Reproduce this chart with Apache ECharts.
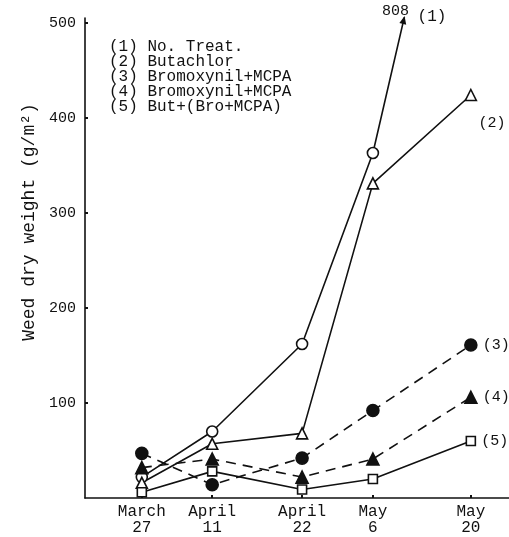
<!DOCTYPE html>
<html><head><meta charset="utf-8">
<script src="https://cdn.jsdelivr.net/npm/echarts@6/dist/echarts.min.js"></script>
<style>html,body{margin:0;padding:0;background:#fff}#c{width:509px;height:537px}</style>
</head><body><div id="c"></div>
<script>
// sampling dates and their positions along the (irregular) horizontal axis
const dateLabels = ['March\n27', 'April\n11', 'April\n22', 'May\n6', 'May\n20'];
const xPos = [1.34, 3.0, 5.12, 6.79, 9.1];
const seriesNames = ['(1) No. Treat.', '(2) Butachlor', '(3) Bromoxynil+MCPA', '(4) Bromoxynil+MCPA', '(5) But+(Bro+MCPA)'];
const endLabels = ['(1)', '(2)', '(3)', '(4)', '(5)'];
const noTreat   = [22, 70, 162, 363, 808];
const butachlor = [16, 57, 68, 331, 424];
const bromo3    = [47, 14, 42, 92, 161];
const bromo4    = [32, 41, 22, 41, 106];
const butBro    = [6, 28, 9, 20, 60];
const yTicks = [100, 200, 300, 400, 500];

const INK = '#111';
const MONO = '"Liberation Mono", "DejaVu Sans Mono", monospace';
const Y_MAX = 505;

const styles = [
  {symbol: 'circle', size: 11, fill: '#fff', dash: 'solid', labelPos: null},
  {symbol: 'triangle', size: 11, fill: '#fff', dash: 'solid', labelPos: [14, 27]},
  {symbol: 'circle', size: 12, fill: INK, dash: [10, 7], labelPos: 'right'},
  {symbol: 'triangle', size: 12, fill: INK, dash: [10, 7], labelPos: 'right'},
  {symbol: 'rect', size: 9, fill: '#fff', dash: 'solid', labelPos: 'right'}
];
const values = [noTreat, butachlor, bromo3, bromo4, butBro];

const series = values.map((vals, si) => {
  const st = styles[si];
  return {
    name: seriesNames[si],
    type: 'line',
    clip: true,
    symbol: st.symbol,
    symbolSize: st.size,
    showAllSymbol: true,
    lineStyle: {color: INK, width: 1.6, type: st.dash},
    itemStyle: {color: st.fill, borderColor: INK, borderWidth: 1.6},
    emphasis: {disabled: true},
    data: vals.map((v, i) => {
      const item = {value: [xPos[i], v]};
      if (i === vals.length - 1) {
        if (st.labelPos) {
          item.label = {
            show: true, formatter: endLabels[si],
            position: st.labelPos, distance: 5,
            color: INK, fontFamily: MONO, fontSize: 15
          };
        } else {
          item.symbol = 'none';
        }
      }
      return item;
    })
  };
});

const chart = echarts.init(document.getElementById('c'), null, {renderer: 'canvas'});
chart.setOption({
  backgroundColor: '#fff',
  animation: false,
  grid: {left: 85, right: 0, top: 18, bottom: 39, containLabel: false},
  legend: {
    show: true, orient: 'vertical', left: 104, top: 39,
    icon: 'none', itemWidth: 0, itemHeight: 14, itemGap: -1, padding: 0,
    selectedMode: false,
    data: seriesNames,
    textStyle: {color: INK, fontFamily: MONO, fontSize: 16, lineHeight: 14, padding: 0}
  },
  xAxis: {
    type: 'value', min: 0, max: 10,
    axisLine: {show: true, lineStyle: {color: INK, width: 1.6}},
    axisTick: {show: true, inside: true, length: 3, customValues: xPos, lineStyle: {color: INK, width: 2}},
    splitLine: {show: false},
    axisLabel: {
      customValues: xPos, margin: 6,
      color: INK, fontFamily: MONO, fontSize: 16, lineHeight: 16,
      formatter: v => { const k = xPos.findIndex(p => Math.abs(p - v) < 1e-6); return k >= 0 ? dateLabels[k] : ''; }
    }
  },
  yAxis: {
    type: 'value', min: 0, max: Y_MAX,
    name: 'Weed dry weight (g/m²)', nameLocation: 'middle', nameGap: 44, nameRotate: 90,
    nameTextStyle: {color: INK, fontFamily: MONO, fontSize: 18, padding: [0, 0, 0, 72]},
    axisLine: {show: true, lineStyle: {color: INK, width: 1.6}},
    axisTick: {show: true, inside: true, length: 3, customValues: yTicks, lineStyle: {color: INK, width: 2}},
    splitLine: {show: false},
    axisLabel: {customValues: yTicks, margin: 9, color: INK, fontFamily: MONO, fontSize: 15}
  },
  series: series
});

// annotation for the off-scale value of series (1): arrow where the line leaves the plot, with its value
(function () {
  const n = noTreat.length;
  const v0 = noTreat[n - 2], v1 = noTreat[n - 1];
  const t = (Y_MAX - v0) / (v1 - v0);
  const xc = xPos[n - 2] + t * (xPos[n - 1] - xPos[n - 2]);
  const pEnd = chart.convertToPixel({gridIndex: 0}, [xc, Y_MAX]);
  const pPrev = chart.convertToPixel({gridIndex: 0}, [xPos[n - 2], v0]);
  const dx = pEnd[0] - pPrev[0], dy = pEnd[1] - pPrev[1];
  const L = Math.hypot(dx, dy), ux = dx / L, uy = dy / L;
  const nx = -uy, ny = ux;
  const len = 8, half = 3.5;
  const tip = [pEnd[0] + ux * 2, pEnd[1] + uy * 2];
  const base = [tip[0] - ux * len, tip[1] - uy * len];
  chart.setOption({
    graphic: [
      {type: 'polygon', silent: true, shape: {points: [tip, [base[0] + nx * half, base[1] + ny * half], [base[0] - nx * half, base[1] - ny * half]]}, style: {fill: INK}},
      {type: 'text', silent: true, x: tip[0] - 9, y: tip[1] - 5, style: {text: String(v1), fill: INK, font: '15px ' + MONO, align: 'center', verticalAlign: 'middle'}},
      {type: 'text', silent: true, x: tip[0] + 13, y: tip[1] + 1, style: {text: endLabels[0], fill: INK, font: '16px ' + MONO, align: 'left', verticalAlign: 'middle'}}
    ]
  });
})();
</script></body></html>
